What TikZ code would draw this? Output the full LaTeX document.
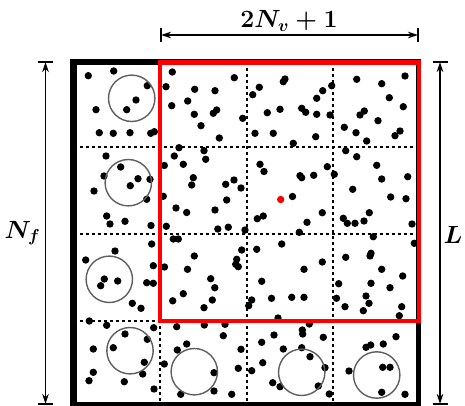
\documentclass[tikz,border=0pt]{standalone}
\usetikzlibrary{arrows.meta}
\definecolor{circgray}{RGB}{95,95,95}
\definecolor{boxred}{RGB}{255,0,0}
\begin{document}
\begin{tikzpicture}[x=1pt,y=-1pt,
  ring/.style={draw=circgray,line width=1.4pt},
  gridline/.style={line width=2pt,dash pattern=on 3pt off 3pt},
  dimline/.style={line width=1.3pt,{Stealth[length=10pt,width=6.5pt]}-{Stealth[length=10pt,width=6.5pt]}},
  dimbar/.style={line width=1.6pt},
  toplab/.style={inner sep=0pt,anchor=base,font=\fontsize{23}{25}\selectfont\boldmath},
  sidelab/.style={inner sep=0pt,anchor=base,font=\fontsize{23}{25}\selectfont\boldmath}]
\useasboundingbox (0,0) rectangle (465,406);
\fill[white] (0,0) rectangle (465,406);

% particles
\foreach \px/\py in {88.3/75.7,113.7/71,147.3/85.7,136/100,126.7/109.7,96/109.7,99.3/132.7,113.3/133.3,130/132.7,150.7/133.3,154.3/131.7,172.3/72,166/86.7,234.3/77.7,194.7/89.3,215/90.7,187.7/101,171.7/105.7,194.3/114.3,213.3/113.3,216.7/110,201/125.7,242.7/118.3,252.7/94.7,219.3/138,255/133.3,179/147.7,204/150.7,205.7/159.3,174.3/156,183.3/164.3,164.3/165.5,106/156,120.7/167,104/176,138/178.7,130.3/185.7,150/179.3,94/191,146.7/199.3,193.3/177.7,191.7/185,225.7/184.3,234/180,241/188,226.7/200,163.3/196.3,176/208,186.7/212.5,215/210,106.7/216,110/224,125/221.3,151/225.5,166.3/226.3,217.8/229,228.3/227.2,257.3/218.7,260/164.3,
245/230,151.7/244,173.3/239,178.3/239,115/251,85.7/260,194.3/256,241.7/250,236.7/259.3,235.7/264.3,238.3/266.7,153.3/265.7,164.5/267,187.5/269.3,104.3/279,100.7/285.7,117.7/281,146.7/282.7,153.3/283.3,210.7/278.7,214.8/287.7,183.3/293.7,172.7/300.8,212.3/300,204/307.7,251.7/300,248.7/305.7,132.3/303.3,141/308.3,89.3/321,106.7/325.3,153.7/327.7,176.7/326.7,204.3/325,225/324.3,223.3/335.7,125/334,147.3/339.3,113.3/347.7,93.3/349,177.3/350,186.7/344,241/349.3,144.3/362.3,164.3/364,142.7/374,93.3/372.3,89/380.7,124.3/381.7,214/372.7,238.3/368.3,251.7/370.7,154/389,180.7/394.3,214/391,231.7/394.3,
259.3/87.3,283.3/81.7,285/79,267.3/112.7,280/109.3,273.3/133.3,293.3/143.3,301.7/108.3,305.7/112.3,316.7/114.3,316.7/98.3,322.7/90.7,331.7/85.7,330/115,315.7/136.7,356.7/79.3,381.7/83.7,405/76,389.3/97.7,403.3/106.7,360/115,364.3/111,378/120.7,344.3/127.3,356/132.7,366.7/141,400/131,395/135.7,345.7/150.7,356.7/156.7,264/171.5,300/175.7,301.7/177.7,313.7/175.3,327.3/166.7,334.3/174.3,376.7/165.3,381.7/179,407.7/176.7,292.5/196.5,352.7/189.3,390.7/197,406/198.7,263.3/216,307/222.3,322.3/212.7,343.3/218.3,347.3/223.3,355/223.3,364/221,369.3/212.7,412/224,
299.3/232.3,373.3/236.7,256.7/249.3,281.7/244,414.3/243.3,345.7/257.3,371/253.3,370/256,322.3/262,304/269.3,381.7/269.3,402.7/276,261.7/281.3,338.7/283.7,371/283.3,390/287.7,271.5/298.3,291.7/297.3,304/297.3,336.5/298.3,366/296,369/303.3,345/306.7,363.3/310.7,401.7/306.7,399.3/315.7,278/318,309.3/324,302.3/330,302.7/334,274/335,261.7/342.3,323.3/337.3,283.3/349,301.7/347.7,310/356.7,262.7/362.7,325/367.7,272.7/382.7,280/386.7,318.3/386,329.3/394,366/347.3,370.7/345,383.3/344,396/336.7,349/371,382.7/367.3,390/367.3,381.7/392.3,405/394.3}
  {\fill (\px,\py) circle[radius=3.7pt];}
\fill[boxred] (280.7,199.5) circle[radius=3.7pt];

% interaction circles
\foreach \px/\py in {131.7/98.3,128.3/182.7,109.3/279.3,130/350.7,194.3/371.7,301.7/372.3,376.7/375}
  {\draw[ring] (\px,\py) circle[radius=23.2pt];}

% cell grid
\foreach \gx in {160,246.5,333}
  {\draw[gridline] (\gx,62) -- (\gx,405);}
\foreach \gy in {147.5,234,320.5}
  {\draw[gridline] (73.5,\gy) -- (418.5,\gy);}

% outer box
\draw[line width=5.5pt] (73.5,62) rectangle (418.5,405);
\fill (70,59.5) rectangle (77,407);
% red window
\draw[boxred,line width=4.6pt] (159.8,62.3) rectangle (419,321);

% dimension arrows
\coordinate (tl) at (161,35);
\coordinate (tr) at (418,35);
\coordinate (lt) at (45.5,62);
\coordinate (lb) at (45.5,404);
\coordinate (rt) at (440,62);
\coordinate (rb) at (440,404);
\draw[dimline] (tl) -- (tr);
\draw[dimline] (lt) -- (lb);
\draw[dimline] (rt) -- (rb);
\draw[dimbar] ([yshift=-7pt]tl) -- ([yshift=7pt]tl);
\draw[dimbar] ([yshift=-7pt]tr) -- ([yshift=7pt]tr);
\draw[dimbar] ([xshift=-7.5pt]lt) -- ([xshift=7.5pt]lt);
\draw[dimbar] ([xshift=-7.5pt]lb) -- ([xshift=7.5pt]lb);
\draw[dimbar] ([xshift=-7.5pt]rt) -- ([xshift=7.5pt]rt);
\draw[dimbar] ([xshift=-7.5pt]rb) -- ([xshift=7.5pt]rb);

\node[toplab] (ltop) at (289,27.5) {$2N_v+1$};
\node[sidelab] (lnf) at (22.5,238) {$N_f$};
\node[sidelab] (lL) at (453,243) {$L$};
\end{tikzpicture}
\end{document}
